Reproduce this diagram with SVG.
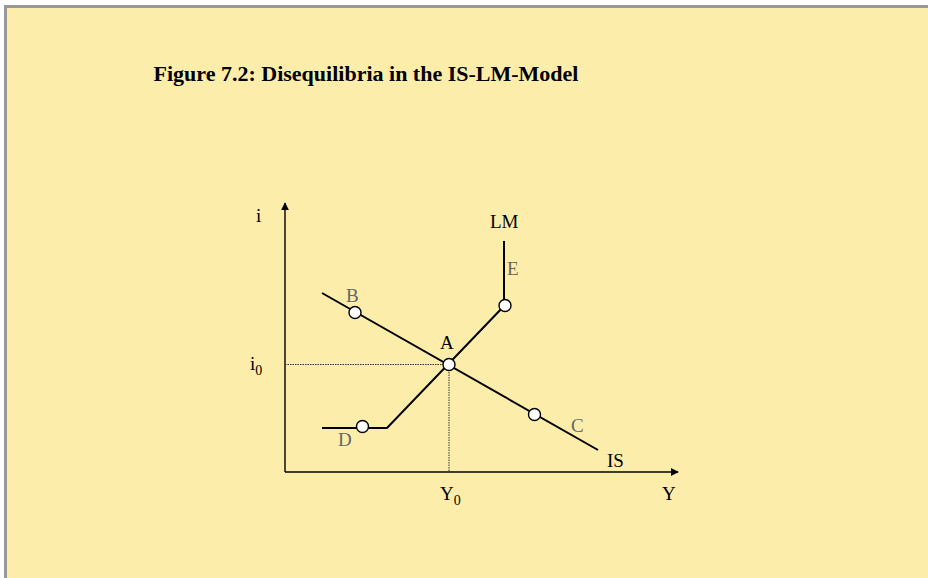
<svg xmlns="http://www.w3.org/2000/svg" width="928" height="578" viewBox="0 0 928 578">
<defs>
<style>
.lbl{font-family:"Liberation Serif","Times New Roman",serif;font-size:19px;fill:#000}
.pt{font-family:"Liberation Serif","Times New Roman",serif;font-size:19px;fill:#666}
.sub{font-size:14px}
.title{font-family:"Liberation Serif","Times New Roman",serif;font-size:22px;font-weight:bold;fill:#000}
.curve{fill:none;stroke:#000;stroke-width:2}
.axis{fill:none;stroke:#000;stroke-width:1.4}
.guide{fill:none;stroke:#333;stroke-width:1;stroke-dasharray:1.5 1}
.dot{fill:#fff;stroke:#000;stroke-width:1.4}
</style>
<marker id="arr" viewBox="0 0 10 10" refX="9" refY="5" markerWidth="8" markerHeight="8" markerUnits="userSpaceOnUse" orient="auto">
<path d="M0,0 L10,5 L0,10 Z" fill="#000"/>
</marker>
</defs>
<rect x="0" y="0" width="928" height="578" fill="#fff"/>
<rect x="5.5" y="6.5" width="930" height="580" fill="#FCEEAA" stroke="#999" stroke-width="3"/>
<text class="title" x="366" y="81" text-anchor="middle">Figure 7.2: Disequilibria in the IS-LM-Model</text>
<g id="connectors">
<line class="axis" x1="285" y1="472" x2="285" y2="203" marker-end="url(#arr)"/>
<line class="axis" x1="285" y1="472" x2="678" y2="472" marker-end="url(#arr)"/>
<line class="guide" x1="285" y1="364.5" x2="449" y2="364.5"/>
<line class="guide" x1="449" y1="364.5" x2="449" y2="472"/>
<polyline id="IS" class="curve" points="322,293 598,450"/>
<polyline id="LM" class="curve" points="322,428 387,428 504,306 504,241"/>
</g>
<g id="axis-labels">
<text class="lbl" x="256" y="222">i</text>
<text class="lbl" x="250" y="370">i<tspan class="sub" dy="5">0</tspan></text>
<text class="lbl" x="440" y="500">Y<tspan class="sub" dy="5">0</tspan></text>
<text class="lbl" x="662" y="500">Y</text>
<text class="lbl" x="490" y="228">LM</text>
<text class="lbl" x="607" y="467">IS</text>
</g>
<g id="A"><circle class="dot" cx="449" cy="364.5" r="6"/><text class="lbl" x="440" y="349">A</text></g>
<g id="B"><circle class="dot" cx="355" cy="312.5" r="6"/><text class="pt" x="346" y="302">B</text></g>
<g id="C"><circle class="dot" cx="534.5" cy="414.5" r="6"/><text class="pt" x="571" y="432">C</text></g>
<g id="D"><circle class="dot" cx="362.5" cy="426.5" r="6"/><text class="pt" x="338" y="446">D</text></g>
<g id="E"><circle class="dot" cx="505" cy="305.5" r="6"/><text class="pt" x="507" y="275">E</text></g>
</svg>
